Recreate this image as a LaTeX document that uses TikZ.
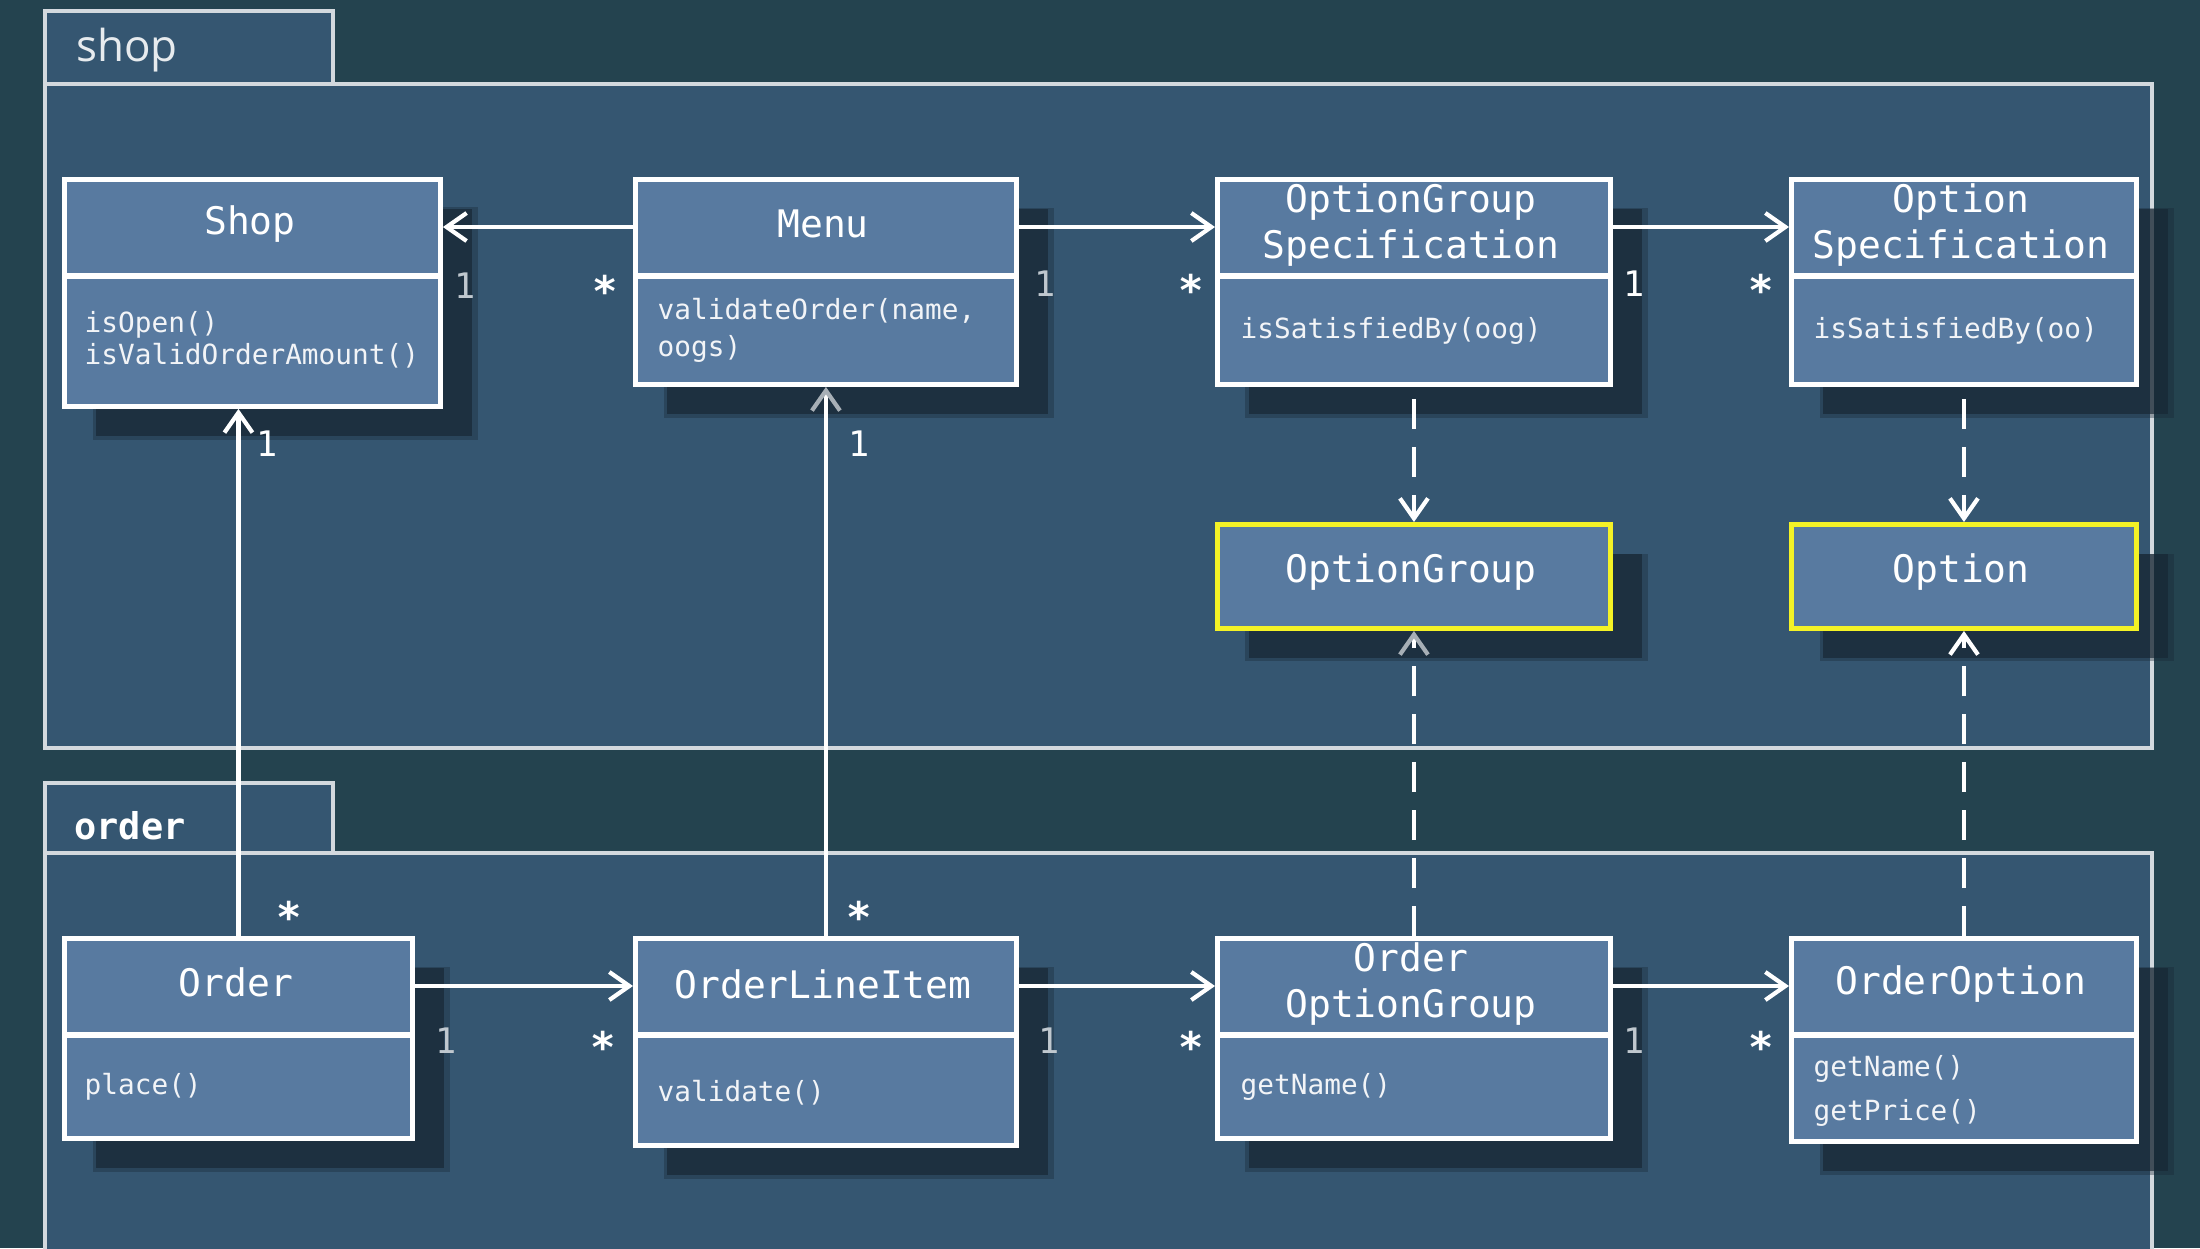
\documentclass[tikz,border=0pt]{standalone}
\usepackage{fontspec}
\setmonofont{DejaVu Sans Mono}
\newfontfamily\tabsans{Open Sans}
\usetikzlibrary{arrows.meta, positioning, calc, shadows}
\definecolor{slate}{HTML}{24434F}
\definecolor{pkgfill}{HTML}{355671}
\definecolor{pkgline}{HTML}{D3D9DE}
\definecolor{boxfill}{HTML}{587AA0}
\definecolor{shade}{HTML}{172633}
\definecolor{hilite}{HTML}{F4F226}
\definecolor{dimtip}{HTML}{A7AFB6}
\definecolor{dimlabel}{HTML}{C0C8CF}
\newcommand{\clsfont}{\ttfamily\fontsize{10.8}{13.2}\selectfont}
\newcommand{\opsfont}{\ttfamily\fontsize{7.9}{9}\selectfont}
\tikzset{
  package/.style={draw=pkgline, line width=1pt, fill=pkgfill},
  classbox/.style={draw=white, line width=1.4pt, fill=boxfill, inner sep=0pt, anchor=north west,
    general shadow={shadow xshift=3.2mm, shadow yshift=-3mm, shadow scale=1.025, fill=shade, opacity=.35},
    drop shadow={shadow xshift=3.2mm, shadow yshift=-3mm, fill=shade, opacity=.65}},
  valuebox/.style={classbox, draw=hilite},
  divider/.style={draw=white, line width=1.7pt},
  clsname/.style={text=white, font=\clsfont, align=center, inner sep=0pt},
  ops/.style={text=white!92!boxfill, font=\opsfont, align=left, anchor=west, inner sep=0pt},
  assoc/.style={draw=white, line width=1.2pt, -{Straight Barb[length=2mm, width=2.8mm]}},
  depend/.style={assoc, dash pattern=on 3mm off 1.8mm},
  multone/.style={text=white, font=\ttfamily\fontsize{10}{10}\selectfont, anchor=base, inner sep=0pt},
  multmany/.style={text=white, font=\ttfamily\bfseries\fontsize{12}{12}\selectfont, anchor=base, inner sep=0pt},
}

\begin{document}
\begin{tikzpicture}[x=0.1mm, y=-0.1mm]
  \useasboundingbox (0,0) rectangle (2200,1248);
  \clip (0,0) rectangle (2200,1248);
  \fill[slate] (0,0) rectangle (2200,1248);
  % packages
  \draw[package] (45,84) rectangle (2152,748);
  \draw[package] (45,11) rectangle (333,84);
  \node[anchor=west, text=white!88!pkgfill, font=\tabsans\fontsize{12.5}{14}\selectfont] (shopTab) at (64,50) {shop};
  \draw[package] (45,853) rectangle (2152,1290);
  \draw[package] (45,783) rectangle (333,853);
  \node[anchor=west, text=white, font=\ttfamily\bfseries\fontsize{10.5}{12}\selectfont] (orderTab) at (62,826) {order};

  % classes
  \node[classbox, minimum width=37.6mm, minimum height=22.7mm] (shop) at (62,177) {};
  \node[classbox, minimum width=38.1mm, minimum height=20.5mm] (menu) at (633,177) {};
  \node[classbox, minimum width=39.3mm, minimum height=20.5mm] (ogspec) at (1215,177) {};
  \node[classbox, minimum width=34.5mm, minimum height=20.5mm] (ospec) at (1789,177) {};
  \node[valuebox, minimum width=39.3mm, minimum height=10.4mm] (ogroup) at (1215,522) {};
  \node[valuebox, minimum width=34.5mm, minimum height=10.4mm] (opt) at (1789,522) {};
  \node[classbox, minimum width=34.8mm, minimum height=20mm] (order) at (62,936) {};
  \node[classbox, minimum width=38.1mm, minimum height=20.7mm] (lineitem) at (633,936) {};
  \node[classbox, minimum width=39.3mm, minimum height=20mm] (oogroup) at (1215,936) {};
  \node[classbox, minimum width=34.5mm, minimum height=20.3mm] (oopt) at (1789,936) {};
  \foreach \b in {shop,menu,ogspec,ospec,order,lineitem,oogroup,oopt}
    \draw[divider] ($(\b.north west)+(0,99)$) -- ($(\b.north east)+(0,99)$);

  % names and operations
  \node[clsname] (shopN) at (250,224) {Shop};
  \node[ops] (shopOps) at (84,340) {isOpen()\\isValidOrderAmount()};
  \node[clsname] (menuN) at (823,224) {Menu};
  \node[ops] (menuOps) at (657,330) {validateOrder(name,\\[1.5pt]oogs)};
  \node[clsname] (ogspecN) at (1411,225) {OptionGroup\\Specification};
  \node[ops] (ogspecOps) at (1240,331) {isSatisfiedBy(oog)};
  \node[clsname] (ospecN) at (1961,225) {Option\\Specification};
  \node[ops] (ospecOps) at (1813,331) {isSatisfiedBy(oo)};
  \node[clsname] (ogroupN) at (1411,572) {OptionGroup};
  \node[clsname] (optN) at (1961,572) {Option};
  \node[clsname] (orderN) at (236,982) {Order};
  \node[ops] (orderOps) at (84,1087) {place()};
  \node[clsname] (lineitemN) at (823,984) {OrderLineItem};
  \node[ops] (lineitemOps) at (657,1093) {validate()};
  \node[clsname] (oogroupN) at (1411,984) {Order\\OptionGroup};
  \node[ops] (oogroupOps) at (1240,1087) {getName()};
  \node[clsname] (ooptN) at (1961,984) {OrderOption};
  \node[ops] (ooptOps) at (1813,1091) {getName()\\[3.5pt]getPrice()};

  % associations
  \draw[assoc] ($(menu.north west)+(0,50)$) -- ($(shop.north east)+(0,50)$);
  \draw[assoc] ($(menu.north east)+(0,50)$) -- ($(ogspec.north west)+(0,50)$);
  \draw[assoc] ($(ogspec.north east)+(0,50)$) -- ($(ospec.north west)+(0,50)$);
  \draw[assoc] ($(order.north east)+(0,50)$) -- ($(lineitem.north west)+(0,50)$);
  \draw[assoc] ($(lineitem.north east)+(0,50)$) -- ($(oogroup.north west)+(0,50)$);
  \draw[assoc] ($(oogroup.north east)+(0,50)$) -- ($(oopt.north west)+(0,50)$);
  \draw[assoc] (order.north) -- (order.north |- shop.south);
  \draw[assoc, -{Straight Barb[length=2mm, width=2.8mm, color=dimtip]}] (lineitem.north) -- (menu.south);
  % dependencies
  \draw[depend] ($(ogspec.south)+(0,12)$) -- (ogroup.north);
  \draw[depend] ($(ospec.south)+(0,12)$) -- (opt.north);
  \draw[depend, -{Straight Barb[length=2mm, width=2.8mm, color=dimtip]}] (oogroup.north) -- (ogroup.south);
  \draw[depend] (oopt.north) -- (opt.south);

  % multiplicities
  \node[multone, text=dimlabel] (shopOne) at (465,298) {1};
  \node[multmany] (menuMany) at (605,306) {*};
  \node[multone, text=dimlabel] (menuOne) at (1045,296) {1};
  \node[multmany] (ogspecMany) at (1191,305) {*};
  \node[multone] (ogspecOne) at (1634,296) {1};
  \node[multmany] (ospecMany) at (1761,305) {*};
  \node[multone] (shopOneB) at (267,456) {1};
  \node[multmany] (orderMany) at (289,932) {*};
  \node[multone] (menuOneB) at (859,456) {1};
  \node[multmany] (lineitemManyT) at (859,932) {*};
  \node[multone, text=dimlabel] (orderOne) at (446,1053) {1};
  \node[multmany] (lineitemMany) at (603,1062) {*};
  \node[multone, text=dimlabel] (lineitemOne) at (1049,1053) {1};
  \node[multmany] (oogroupMany) at (1191,1062) {*};
  \node[multone, text=dimlabel] (oogroupOne) at (1634,1053) {1};
  \node[multmany] (ooptMany) at (1761,1062) {*};
\end{tikzpicture}
\end{document}
